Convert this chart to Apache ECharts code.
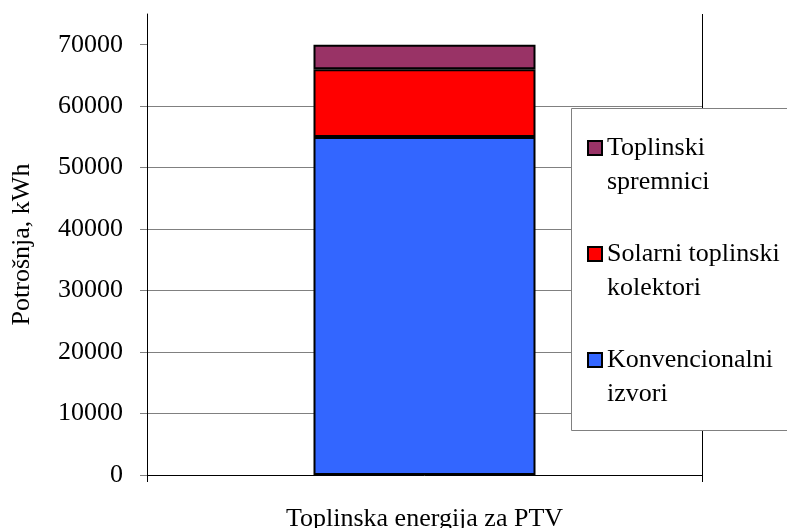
<!DOCTYPE html>
<html>
<head>
<meta charset="utf-8">
<script src="https://cdn.jsdelivr.net/npm/echarts@6/dist/echarts.min.js"></script>
<style>
  html, body { margin: 0; padding: 0; background: #fff; }
  #chart { width: 787px; height: 528px; }
</style>
</head>
<body>
<div id="chart"></div>
<script>
// Heat energy for domestic hot water, split by source (kWh)
const categories = ['Toplinska energija za PTV'];
const seriesNames = ['Konvencionalni izvori', 'Solarni toplinski kolektori', 'Toplinski spremnici'];
// legend names wrap onto two lines; the leading blank line keeps the swatch level with the first line
const legendLabels = {
  'Toplinski spremnici': '\nToplinski\nspremnici',
  'Solarni toplinski kolektori': '\nSolarni toplinski\nkolektori',
  'Konvencionalni izvori': '\nKonvencionalni\nizvori'
};
const konvencionalni = [55000];
const solarni = [11000];
const spremnici = [4000];
const yTicks = [0, 10000, 20000, 30000, 40000, 50000, 60000, 70000];

const colors = ['#3366FF', '#FF0000', '#993366'];
const values = [konvencionalni, solarni, spremnici];
const FONT = 'Liberation Serif, Times New Roman, serif';

const chart = echarts.init(document.getElementById('chart'), null, { renderer: 'canvas' });

chart.setOption({
  animation: false,
  backgroundColor: '#ffffff',
  textStyle: { fontFamily: FONT, color: '#000' },
  grid: { left: 147, right: 85, top: 14, bottom: 53, containLabel: false, outerBoundsMode: 'none' },
  xAxis: {
    type: 'category',
    data: categories,
    boundaryGap: true,
    axisLine: { lineStyle: { color: '#000', width: 1 } },
    axisTick: { show: true, length: 7, lineStyle: { color: '#000' } },
    axisLabel: { fontFamily: FONT, fontSize: 26, color: '#000', margin: 31 },
    splitLine: { show: true, lineStyle: { color: '#000', width: 1 } }
  },
  yAxis: {
    type: 'value',
    min: 0,
    max: 75000,
    interval: 10000,
    name: 'Potrošnja, kWh',
    nameLocation: 'middle',
    nameGap: 112,
    nameRotate: 90,
    nameTextStyle: { fontFamily: FONT, fontSize: 26, color: '#000' },
    axisLine: { show: true, lineStyle: { color: '#000', width: 1 } },
    axisTick: { show: true, length: 7, customValues: yTicks, lineStyle: { color: '#808080' } },
    axisLabel: {
      fontFamily: FONT, fontSize: 26, color: '#000', margin: 24,
      customValues: yTicks,
      formatter: v => String(v)
    },
    splitLine: { show: true, showMaxLine: false, lineStyle: { color: '#808080', width: 1 } }
  },
  // frame around the legend
  graphic: [{
    type: 'rect',
    z: 1,
    shape: { x: 571.5, y: 108.5, width: 240, height: 322 },
    style: { fill: '#fff', stroke: '#808080', lineWidth: 1 }
  }],
  legend: {
    orient: 'vertical',
    left: 587,
    top: 97,
    padding: 0,
    itemGap: 4,
    itemWidth: 14,
    itemHeight: 14,
    icon: 'rect',
    data: seriesNames.slice().reverse(),
    formatter: name => legendLabels[name],
    itemStyle: { borderColor: '#000', borderWidth: 2 },
    textStyle: {
      fontFamily: FONT,
      fontSize: 26,
      color: '#000',
      lineHeight: 34
    }
  },
  series: seriesNames.map((name, i) => ({
    name: name,
    type: 'bar',
    stack: 'total',
    barWidth: '40%',
    data: values[i],
    itemStyle: { color: colors[i], borderColor: '#000', borderWidth: 2 }
  }))
});
</script>
</body>
</html>
